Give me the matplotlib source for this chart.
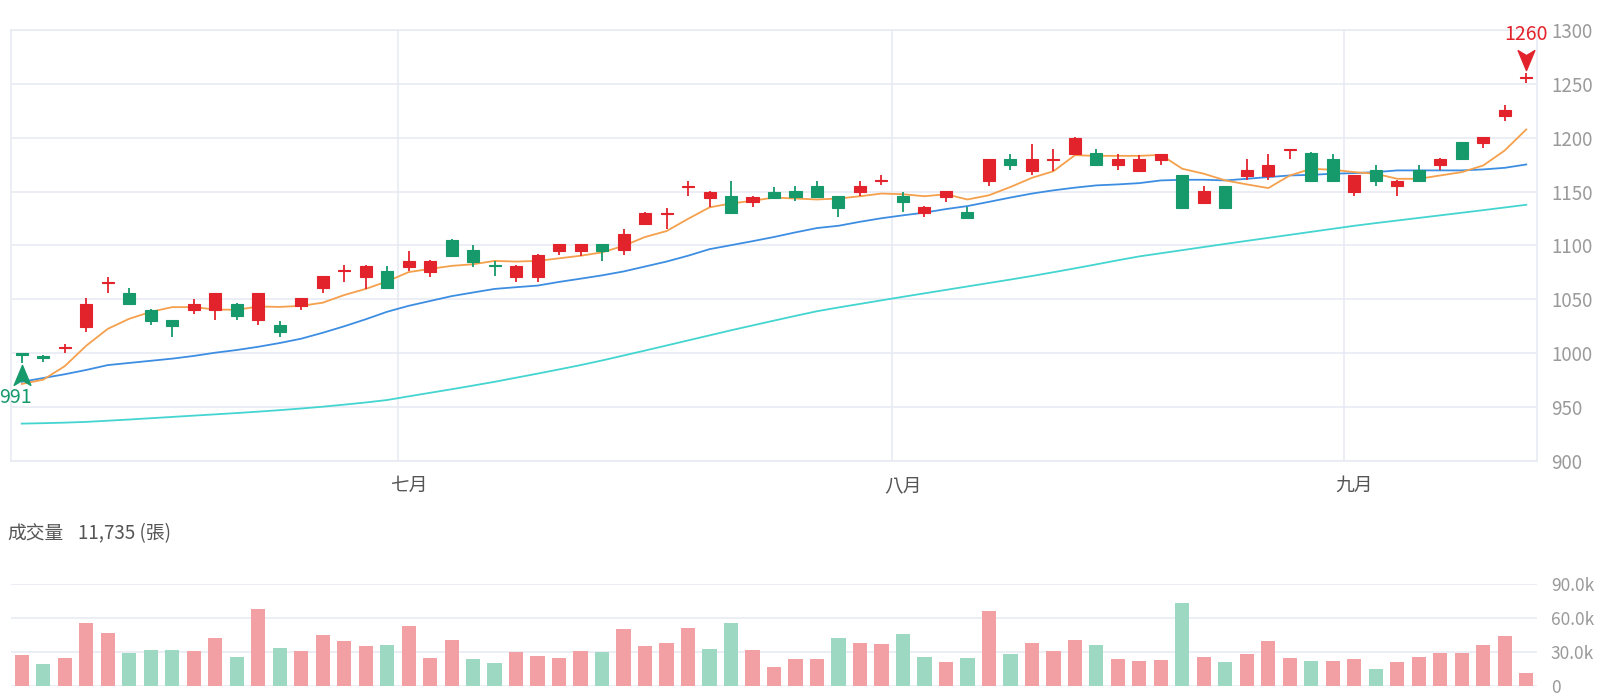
import matplotlib
matplotlib.use("Agg")
import matplotlib.pyplot as plt
from matplotlib.path import Path
from matplotlib import transforms
import numpy as np

plt.rcParams['font.family'] = ['Noto Sans CJK TC', 'DejaVu Sans']

# ---------------- data ----------------
opens = [1000, 997.5, 1004.5, 1024, 1065.5, 1055.5, 1040.5, 1030.5, 1040.5, 1040,
         1045.5, 1030.5, 1026, 1044, 1060.5, 1076, 1070.5, 1076,
         1080.5, 1075.5, 1105.5, 1095.5, 1082, 1070.5, 1070.5, 1095, 1094.5, 1101,
         1095.5, 1120, 1129.5, 1154, 1144.5, 1145.5, 1140, 1150,
         1150.5, 1155.5, 1145.5, 1150, 1160, 1145.5, 1130, 1145, 1131, 1159.5,
         1180, 1169.5, 1179.5, 1185, 1185.5, 1174.5, 1169.5, 1179.5,
         1165, 1139.5, 1155, 1164.5, 1164.5, 1189, 1186, 1180.5, 1149.5, 1170,
         1155, 1170, 1175, 1196, 1195, 1220, 1255]
highs = [1000.5, 998, 1009, 1051, 1070.5, 1060.5, 1041, 1031, 1050, 1056,
         1047, 1056, 1029.5, 1051.5, 1072, 1082, 1082, 1081,
         1095, 1086.5, 1106, 1100.5, 1085.5, 1081.5, 1092, 1101, 1101, 1101.5,
         1115.5, 1131, 1135, 1160, 1150.5, 1160, 1145.5, 1154.5,
         1155, 1160, 1146, 1160, 1165, 1150, 1136.5, 1151, 1135.5, 1180.5,
         1185, 1194.5, 1189.5, 1200.5, 1189.5, 1185, 1184, 1185,
         1165.5, 1155, 1155.5, 1180, 1184.5, 1190, 1186.5, 1184.5, 1165.5, 1175,
         1160.5, 1175, 1181, 1196.5, 1201, 1230.5, 1260]
lows = [991, 992, 1000, 1020, 1055.5, 1045, 1026, 1015.5, 1036, 1030.5,
        1030.5, 1026, 1015.5, 1040, 1055.5, 1066.5, 1060, 1060,
        1076, 1070.5, 1090, 1080.5, 1071.5, 1066, 1066, 1091, 1090.5, 1085.5,
        1091, 1120, 1115.5, 1145.5, 1135.5, 1129.5, 1135.5, 1144,
        1141, 1145, 1126, 1145.5, 1156, 1131, 1126, 1140.5, 1125, 1155,
        1170, 1165.5, 1169.5, 1184.5, 1175, 1170, 1169, 1175,
        1134.5, 1139, 1134.5, 1160.5, 1160.5, 1180, 1159.5, 1159.5, 1145.5, 1155.5,
        1145.5, 1159.5, 1170, 1179.5, 1190.5, 1215.5, 1251]
closes = [998, 995.6, 1005.5, 1045.5, 1066.5, 1045.5, 1030, 1025, 1045.5, 1055.5,
          1035, 1055.5, 1020, 1051, 1071.5, 1077, 1081, 1060.5,
          1086, 1086, 1090.5, 1085, 1081, 1081, 1091, 1101, 1101, 1095,
          1111, 1130.5, 1130.5, 1155, 1150, 1130, 1145, 1144.5,
          1145, 1145, 1135, 1155.5, 1161, 1140, 1136, 1150.5, 1125.5, 1180,
          1174.5, 1180, 1180.5, 1200, 1175, 1180, 1180, 1185,
          1135, 1150.5, 1135, 1170.5, 1175, 1190, 1160, 1160, 1165, 1160,
          1160, 1160, 1180.5, 1180, 1200.5, 1226, 1256]

ma5 = [971.5, 975.5, 988, 1007, 1022.6, 1032, 1038.4, 1042.8, 1042.8, 1040.6,
       1040.3, 1043.4, 1043, 1044, 1046.9, 1054, 1059.7, 1066.7,
       1075.3, 1078.3, 1081.1, 1082.6, 1085.7, 1085.1, 1085.7, 1088.1, 1090.5, 1093.6,
       1099.7, 1107.9, 1113.4, 1124.7, 1135.4, 1139, 1141.5, 1144.5,
       1143.6, 1142.7, 1143.6, 1145.7, 1148.2, 1147.6, 1145.7, 1147.6, 1142.7, 1146.6,
       1154.3, 1162.8, 1168.9, 1183.8, 1183.2, 1183.2, 1183.2, 1184.1,
       1171.2, 1166.6, 1160.4, 1156.7, 1153.3, 1165, 1171.2, 1170.3, 1168.1, 1166.6,
       1161.9, 1161.9, 1165, 1168.1, 1174.3, 1188.2, 1207.7]
ma20 = [973.5, 977, 980.5, 984.5, 989, 991, 993, 995, 997.5, 1000.5,
        1003, 1006, 1009.5, 1013.5, 1019, 1025, 1031.5, 1038.5,
        1044, 1048.5, 1053, 1056.4, 1059.7, 1061.3, 1062.8, 1066.2, 1069.2, 1072.3,
        1075.9, 1080.5, 1085.1, 1090.5, 1096.6, 1100.3, 1104, 1107.9,
        1112.2, 1116.2, 1118.3, 1122, 1125.3, 1128, 1130.5, 1133.8, 1136.6, 1140.5,
        1144.5, 1148.2, 1151.2, 1153.7, 1155.8, 1156.7, 1157.9, 1160.4,
        1161, 1161, 1160.4, 1161.9, 1163.5, 1165, 1165.6, 1166.6, 1167.2, 1168.1,
        1169.7, 1169.7, 1169.7, 1169.7, 1170.6, 1172.1, 1175.2]
ma60 = [934.7, 935.1, 935.6, 936.3, 937.4, 938.5, 939.7, 940.9, 942.1, 943.3,
        944.5, 945.8, 947.2, 948.7, 950.4, 952.3, 954.3, 956.6,
        960.0, 963.3, 966.6, 970.0, 973.5, 977.3, 981.1, 985.0, 989.0, 993.3,
        997.9, 1002.5, 1007.2, 1011.9, 1016.6, 1021.3, 1025.8, 1030.3,
        1034.7, 1039.0, 1042.5, 1045.8, 1049.1, 1052.4, 1055.6, 1058.8, 1062.0, 1065.2,
        1068.4, 1071.7, 1075.2, 1078.8, 1082.5, 1086.3, 1089.9, 1092.8,
        1095.7, 1098.6, 1101.5, 1104.3, 1107.1, 1109.9, 1112.7, 1115.5, 1118.3, 1120.8,
        1123.2, 1125.6, 1128.0, 1130.4, 1132.8, 1135.3, 1137.8]

volumes = [27500, 19400, 24600, 55900, 47000, 29000, 31900, 31900, 31300, 42000,
           25800, 67800, 33900, 30700, 44900, 40000, 35400, 36500, 53300, 24900,
           40300, 24100, 20600, 30400, 26400, 24600, 31300, 30400, 49900, 35400,
           37700, 51300, 32800, 55400, 31900, 16500, 23500, 23500, 42000, 38000,
           36800, 46000, 25800, 21400, 24600, 65800, 27800, 38000, 30700, 40300,
           35900, 24000, 21700, 22900, 73600, 25500, 20900, 28100, 40000, 24300,
           21700, 22300, 23500, 15400, 20900, 25800, 28700, 29000, 36500, 44300,
           11735]
vol_up = [1, 0, 1, 1, 1, 0, 0, 0, 1, 1,
          0, 1, 0, 1, 1, 1, 1, 0, 1, 1,
          1, 0, 0, 1, 1, 1, 1, 0, 1, 1,
          1, 1, 0, 0, 1, 1, 1, 1, 0, 1,
          1, 0, 0, 1, 0, 1, 0, 1, 1, 1,
          0, 1, 1, 1, 0, 1, 0, 1, 1, 1,
          0, 1, 1, 0, 1, 1, 1, 1, 1, 1,
          1]

month_labels = ['七月', '八月', '九月']
month_start = [18, 41, 62]
price_ticks = [900, 950, 1000, 1050, 1100, 1150, 1200, 1250, 1300]
vol_ticks = [0, 30000, 60000, 90000]
vol_tick_labels = ['0', '30.0k', '60.0k', '90.0k']

# ---------------- style ----------------
RED = '#e3232c'
GREEN = '#16996b'
VRED = '#f3a0a5'
VGREEN = '#9cd8c2'
C_MA5 = '#f5a04c'
C_MA20 = '#3d8ee2'
C_MA60 = '#44d5d1'
GRID = '#e6e9f1'
TICK = '#9a9a9a'

W, H = 1600, 700
fig = plt.figure(figsize=(16, 7), dpi=100)
fig.patch.set_facecolor('white')

x_left, x_right = 11, 1537
p_top, p_bot = 30, 461
v_top, v_bot = 584, 686

ax = fig.add_axes([x_left / W, (H - p_bot) / H, (x_right - x_left) / W, (p_bot - p_top) / H])
axv = fig.add_axes([x_left / W, (H - v_bot) / H, (x_right - x_left) / W, (v_bot - v_top) / H])

n = len(opens)
x = np.arange(n)
o = np.array(opens); c = np.array(closes); hi = np.array(highs); lo = np.array(lows)
up = c >= o
colors = np.where(up, RED, GREEN)

# price panel
ax.set_xlim(-0.5, n - 0.5)
ax.set_ylim(price_ticks[0], price_ticks[-1])
ax.set_yticks(price_ticks)
ax.yaxis.tick_right()
ax.tick_params(axis='y', length=0, pad=10, labelsize=13.5, labelcolor=TICK)
ax.grid(axis='y', color=GRID, linewidth=1.1)
ax.set_axisbelow(True)
for s in ax.spines.values():
    s.set_color(GRID)
    s.set_linewidth(1.1)
for ms in month_start:
    ax.axvline(ms - 0.5, color=GRID, linewidth=1.1, zorder=0)
ax.set_xticks(month_start)
ax.set_xticklabels(month_labels)
ax.tick_params(axis='x', length=0, pad=10, labelsize=13.5, labelcolor='#555555')

ax.plot(x, ma60, color=C_MA60, linewidth=1.3, zorder=2)
ax.plot(x, ma20, color=C_MA20, linewidth=1.3, zorder=2)
ax.plot(x, ma5, color=C_MA5, linewidth=1.3, zorder=2)

ax.vlines(x, lo, hi, colors=colors, linewidth=1.3, zorder=3)
body_bottom = np.minimum(o, c)
body_h = np.abs(c - o)
ax.bar(x, body_h, bottom=body_bottom, width=0.56, color=colors,
       edgecolor=colors, linewidth=0.8, zorder=4)

# high / low markers
i_hi = int(np.argmax(hi)); i_lo = int(np.argmin(lo))
arrow_up = Path([(0, 1), (0.75, -0.8), (0, -0.35), (-0.75, -0.8), (0, 1)],
                [Path.MOVETO, Path.LINETO, Path.LINETO, Path.LINETO, Path.CLOSEPOLY])
arrow_dn = Path([(0, -1), (0.75, 0.8), (0, 0.35), (-0.75, 0.8), (0, -1)],
                [Path.MOVETO, Path.LINETO, Path.LINETO, Path.LINETO, Path.CLOSEPOLY])
tr_hi = transforms.offset_copy(ax.transData, fig=fig, x=0, y=14, units='dots')
tr_lo = transforms.offset_copy(ax.transData, fig=fig, x=0, y=-13, units='dots')
ax.plot([i_hi], [hi[i_hi]], marker=arrow_dn, markersize=16, color=RED,
        transform=tr_hi, clip_on=False, zorder=5, linestyle='none')
ax.plot([i_lo], [lo[i_lo]], marker=arrow_up, markersize=16, color=GREEN,
        transform=tr_lo, clip_on=False, zorder=5, linestyle='none')
ax.annotate(f"{hi[i_hi]:.0f}", xy=(i_hi, hi[i_hi]), xytext=(0, 39), textcoords='offset pixels',
            ha='center', va='center', color=RED, fontsize=14, annotation_clip=False)
ax.annotate(f"{lo[i_lo]:.0f}", xy=(i_lo, lo[i_lo]), xytext=(-6, -35), textcoords='offset pixels',
            ha='center', va='center', color=GREEN, fontsize=14, annotation_clip=False)

# volume panel
vcolors = [VRED if u else VGREEN for u in vol_up]
axv.bar(x, volumes, width=0.66, color=vcolors, zorder=3)
axv.set_xlim(-0.5, n - 0.5)
axv.set_ylim(vol_ticks[0], vol_ticks[-1])
axv.set_yticks(vol_ticks)
axv.set_yticklabels(vol_tick_labels)
axv.yaxis.tick_right()
axv.tick_params(axis='y', length=0, pad=10, labelsize=12.5, labelcolor=TICK)
axv.set_xticks([])
axv.grid(axis='y', color=GRID, linewidth=1.1)
axv.set_axisbelow(True)
for s in axv.spines.values():
    s.set_visible(False)

fig.text(7 / W, (H - 534) / H, "成交量", ha='left', va='center',
         fontsize=13.5, color='#555555')
fig.text(78 / W, (H - 534) / H, f"{volumes[-1]:,} (張)", ha='left', va='center',
         fontsize=13.5, color='#555555')

fig.savefig('out.png', dpi=100, facecolor='white')
